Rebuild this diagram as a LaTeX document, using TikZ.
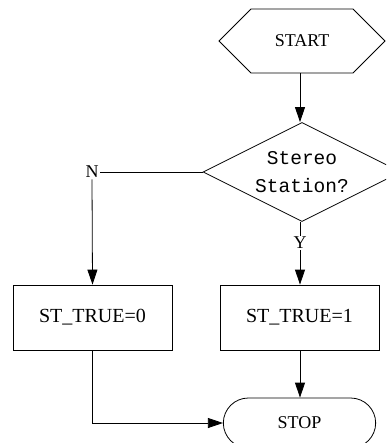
\documentclass[tikz,border=0pt]{standalone}
\usepackage{fontspec}
\setmainfont{Liberation Serif}
\setmonofont{Liberation Mono}
\usetikzlibrary{arrows.meta,shapes.geometric,shapes.misc,shapes.symbols}
\tikzstyle{startbox}=[signal, signal to=east and west, signal pointer angle=90, draw, minimum width=166pt, minimum height=64pt, inner sep=0pt, font=\fontsize{18}{20}\selectfont]
\tikzstyle{decision}=[diamond, aspect=2, draw, minimum width=198pt, minimum height=99pt, inner sep=0pt, align=center, font=\ttfamily\fontsize{19.5}{28}\selectfont]
\tikzstyle{process}=[rectangle, draw, minimum width=159pt, minimum height=65pt, font=\fontsize{20}{22}\selectfont]
\tikzstyle{stopbox}=[rounded rectangle, draw, minimum width=159pt, minimum height=50pt, font=\fontsize{18}{20}\selectfont]
\tikzstyle{lab}=[inner sep=1pt, font=\fontsize{18}{20}\selectfont]

\begin{document}
\begin{tikzpicture}[x=1pt, y=-1pt, line width=0.8pt, >={Triangle[length=15pt, width=10pt]}]
                \clip (0,0) rectangle (386,443);
                \node[startbox] (start) at (302, 41) {START};
                \node[decision] (dec) at (302, 172) {Stereo\\Station?};
                \node[lab] (n) at (92, 172) {N};
                \node[lab] (y) at (300, 243) {Y};
                \node[process] (st0) at (92.5, 317.5) {ST\_TRUE=0};
                \node[process] (st1) at (299.5, 317.5) {ST\_TRUE=1};
                \node[stopbox] (stop) at (299.5, 423) {STOP};
                \draw[->] (start.south -| 300,0) -- (dec.north -| 300,0);
                \draw (dec.west) -- (n.east);
                \draw[->] (n.south) -- (st0.north);
                \draw (dec.south -| 300,0) -- (y.north);
                \draw[->] (y.south) -- (st1.north -| 300,0);
                \draw[->] (st1.south -| 300,0) -- (stop.north -| 300,0);
                \draw[->] (st0.south) |- (stop.west);
            \end{tikzpicture}
\end{document}
